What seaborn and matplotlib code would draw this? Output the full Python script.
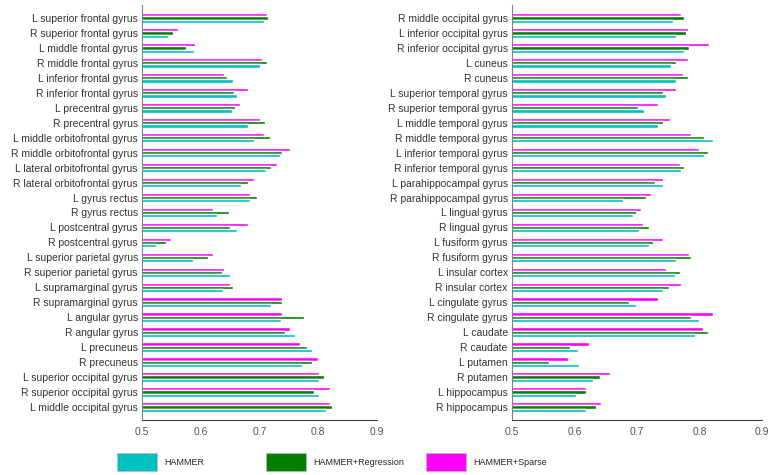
import numpy as np
import pandas as pd
import matplotlib
matplotlib.use('Agg')
import matplotlib.pyplot as plt
import matplotlib.patches as mpatches
import seaborn as sns

sns.set_style('white')
plt.rcParams['font.family'] = ['Liberation Sans', 'DejaVu Sans']

methods = ['HAMMER', 'HAMMER+Regression', 'HAMMER+Sparse']
colors = {'HAMMER': '#00BFBF', 'HAMMER+Regression': '#007F00', 'HAMMER+Sparse': '#FF00FF'}

regions_left = [
    'L superior frontal gyrus', 'R superior frontal gyrus', 'L middle frontal gyrus',
    'R middle frontal gyrus', 'L inferior frontal gyrus', 'R inferior frontal gyrus',
    'L precentral gyrus', 'R precentral gyrus', 'L middle orbitofrontal gyrus',
    'R middle orbitofrontal gyrus', 'L lateral orbitofrontal gyrus', 'R lateral orbitofrontal gyrus',
    'L gyrus rectus', 'R gyrus rectus', 'L postcentral gyrus', 'R postcentral gyrus',
    'L superior parietal gyrus', 'R superior parietal gyrus', 'L supramarginal gyrus',
    'R supramarginal gyrus', 'L angular gyrus', 'R angular gyrus', 'L precuneus',
    'R precuneus', 'L superior occipital gyrus', 'R superior occipital gyrus',
    'L middle occipital gyrus']
hammer_left = [0.707, 0.545, 0.589, 0.701, 0.654, 0.661, 0.653, 0.681, 0.690, 0.735,
               0.711, 0.669, 0.684, 0.628, 0.662, 0.524, 0.587, 0.650, 0.637, 0.719,
               0.737, 0.760, 0.789, 0.773, 0.801, 0.801, 0.813]
regression_left = [0.715, 0.552, 0.575, 0.712, 0.644, 0.657, 0.658, 0.709, 0.717, 0.739,
                   0.719, 0.681, 0.696, 0.648, 0.649, 0.540, 0.612, 0.636, 0.655, 0.739,
                   0.775, 0.743, 0.780, 0.789, 0.810, 0.793, 0.823]
sparse_left = [0.712, 0.562, 0.590, 0.704, 0.640, 0.680, 0.667, 0.700, 0.707, 0.752,
               0.729, 0.690, 0.684, 0.620, 0.680, 0.549, 0.620, 0.640, 0.650, 0.738,
               0.739, 0.752, 0.769, 0.800, 0.801, 0.820, 0.820]

regions_right = [
    'R middle occipital gyrus', 'L inferior occipital gyrus', 'R inferior occipital gyrus',
    'L cuneus', 'R cuneus', 'L superior temporal gyrus', 'R superior temporal gyrus',
    'L middle temporal gyrus', 'R middle temporal gyrus', 'L inferior temporal gyrus',
    'R inferior temporal gyrus', 'L parahippocampal gyrus', 'R parahippocampal gyrus',
    'L lingual gyrus', 'R lingual gyrus', 'L fusiform gyrus', 'R fusiform gyrus',
    'L insular cortex', 'R insular cortex', 'L cingulate gyrus', 'R cingulate gyrus',
    'L caudate', 'R caudate', 'L putamen', 'R putamen', 'L hippocampus', 'R hippocampus']
hammer_right = [0.758, 0.762, 0.775, 0.754, 0.762, 0.746, 0.711, 0.733, 0.821, 0.808,
                0.770, 0.742, 0.677, 0.693, 0.704, 0.719, 0.762, 0.761, 0.741, 0.699,
                0.800, 0.793, 0.606, 0.607, 0.630, 0.603, 0.619]
regression_right = [0.775, 0.779, 0.783, 0.762, 0.782, 0.741, 0.702, 0.741, 0.807, 0.813,
                    0.776, 0.729, 0.715, 0.699, 0.719, 0.725, 0.786, 0.769, 0.752, 0.688,
                    0.786, 0.813, 0.593, 0.559, 0.641, 0.619, 0.634]
sparse_right = [0.770, 0.781, 0.816, 0.782, 0.773, 0.763, 0.733, 0.753, 0.787, 0.799,
                0.769, 0.741, 0.723, 0.707, 0.710, 0.741, 0.783, 0.746, 0.770, 0.733,
                0.821, 0.805, 0.623, 0.589, 0.657, 0.618, 0.642]


def long_frame(regions, h, r, s):
    rows = []
    for name, series in zip(methods, [h, r, s]):
        for reg, v in zip(regions, series):
            rows.append({'region': reg, 'method': name, 'value': v})
    return pd.DataFrame(rows)


fig = plt.figure(figsize=(7.72, 4.75), dpi=100)
ax_l = fig.add_axes([0.184, 0.1158, 0.3044, 0.8737])
ax_r = fig.add_axes([0.6632, 0.1158, 0.3238, 0.8737])

panels = [(ax_l, regions_left, hammer_left, regression_left, sparse_left),
          (ax_r, regions_right, hammer_right, regression_right, sparse_right)]

for ax, regs, h, r, s in panels:
    df = long_frame(regs, h, r, s)
    sns.barplot(data=df, x='value', y='region', hue='method', order=regs,
                hue_order=['HAMMER+Sparse', 'HAMMER+Regression', 'HAMMER'],
                palette=colors, orient='h', width=0.64, saturation=1,
                legend=False, ax=ax)
    ax.set_xlim(0.5, 0.9)
    ax.set_ylim(len(regs) - 1 + 0.87, -0.87)
    ax.set_xticks([0.5, 0.6, 0.7, 0.8, 0.9])
    ax.set_xticklabels(['0.5', '0.6', '0.7', '0.8', '0.9'])
    ax.set_xlabel('')
    ax.set_ylabel('')
    for sp in ['top', 'right']:
        ax.spines[sp].set_visible(False)
    ax.spines['left'].set_color('#808080')
    ax.spines['left'].set_linewidth(0.8)
    ax.spines['bottom'].set_color('#404040')
    ax.spines['bottom'].set_linewidth(0.8)
    ax.tick_params(axis='x', direction='in', length=4, width=0.8, color='#404040',
                   labelsize=7.5, labelcolor='#555555', pad=5)
    ax.tick_params(axis='y', length=0, labelsize=7.5, labelcolor='#333333', pad=3)

# legend boxes along the bottom
legend_pos = [(0.1516, 'HAMMER'), (0.3446, 'HAMMER+Regression'), (0.5518, 'HAMMER+Sparse')]
for xpos, name in legend_pos:
    handle = mpatches.Patch(facecolor=colors[name], edgecolor='#bbbbbb', linewidth=0.5, label=name)
    fig.legend(handles=[handle], loc='center left', bbox_to_anchor=(xpos, 0.027),
               frameon=False, fontsize=6.5, handlelength=4.4, handleheight=2.7,
               handletextpad=0.85, borderpad=0, borderaxespad=0)

fig.savefig('out.png', dpi=100)
